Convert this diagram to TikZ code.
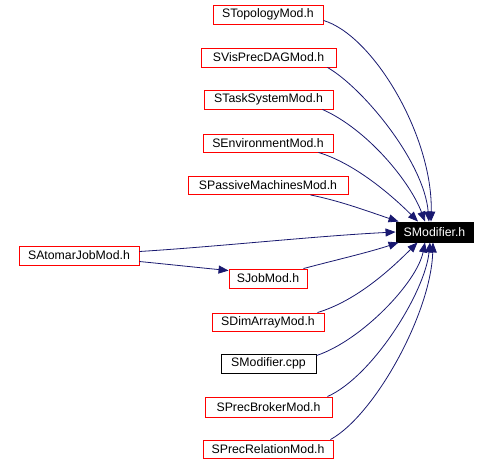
\documentclass[tikz,border=0pt]{standalone}
\usepackage{fontspec}
\setmainfont{Liberation Sans}
\usetikzlibrary{arrows.meta,calc}
\definecolor{edgeblue}{HTML}{191970}
\begin{document}
\begin{tikzpicture}[x=1pt,y=-1pt,
  box/.style={draw=red,line width=0.9pt,inner sep=0pt,minimum height=19pt,font=\fontsize{12.3}{14}\selectfont,text=black},
  blk/.style={box,draw=black},
  main/.style={box,draw=black,fill=black,text=white},
  edge/.style={draw=edgeblue,line width=0.8pt,-{Triangle[length=10pt,width=8pt]}}]
\useasboundingbox[fill=white] (0,0) rectangle (489,465);
\node[box,minimum width=110pt] (topo) at (268,14.5) {STopologyMod.h};
\node[box,minimum width=135pt] (vis) at (268.5,57.5) {SVisPrecDAGMod.h};
\node[box,minimum width=129pt] (task) at (268.5,99.5) {STaskSystemMod.h};
\node[box,minimum width=130pt,minimum height=18pt] (env) at (268,143) {SEnvironmentMod.h};
\node[box,minimum width=160pt,minimum height=18pt] (pass) at (268,185.5) {SPassiveMachinesMod.h};
\node[main,minimum width=77pt,minimum height=20pt] (mod) at (434.5,232) {SModifier.h};
\node[box,minimum width=120pt] (atom) at (79,255.5) {SAtomarJobMod.h};
\node[box,minimum width=78pt] (job) at (268,278.5) {SJobMod.h};
\node[box,minimum width=112pt,minimum height=18pt] (dim) at (268,322) {SDimArrayMod.h};
\node[blk,minimum width=95pt] (cpp) at (268.5,363.5) {SModifier.cpp};
\node[box,minimum width=127pt,minimum height=20pt] (brok) at (268.5,407) {SPrecBrokerMod.h};
\node[box,minimum width=130pt,minimum height=18pt] (rel) at (268,449) {SPrecRelationMod.h};

\draw[edge] ($(topo.south east)+(0,-4)$) .. controls +(50,15) and +(2,-85) .. ($(mod.north)+(-3.5,0)$);
\draw[edge] ($(vis.south east)+(-9,0)$) .. controls +(35,20) and +(-5,-60) .. ($(mod.north)+(-5.5,0)$);
\draw[edge] ($(task.south east)+(-11,0)$) .. controls +(45,20) and +(-15,-40) .. ($(mod.north)+(-9.5,0)$);
\draw[edge] ($(env.south east)+(-15,0)$) .. controls +(40,12) and +(-20,-20) .. ($(mod.north)+(-16.5,0)$);
\draw[edge] ($(pass.south east)+(-38,0)$) .. controls +(30,6) and +(-30,-10) .. ($(mod.north west)+(3,0)$);
\draw[edge] ($(atom.east)+(0,-4)$) .. controls +(80,-5) and +(-80,4) .. ($(mod.west)+(0,0)$);
\draw[edge] ($(atom.east)+(0,6)$) .. controls +(30,3) and +(-30,-3) .. ($(job.north west)+(0,2)$);
\draw[edge] ($(job.north east)+(-4,0)$) .. controls +(30,-8) and +(-30,10) .. ($(mod.south west)+(3,0)$);
\draw[edge] ($(dim.north east)+(-7,0)$) .. controls +(40,-12) and +(-25,25) .. ($(mod.south)+(-17,0)$);
\draw[edge] ($(cpp.north east)+(0,2)$) .. controls +(45,-15) and +(-8,40) .. ($(mod.south)+(-9.5,0)$);
\draw[edge] ($(brok.north east)+(-5,0)$) .. controls +(45,-20) and +(-5,50) .. ($(mod.south)+(-4.5,0)$);
\draw[edge] ($(rel.north east)+(-3,0)$) .. controls +(45,-25) and +(-2,70) .. ($(mod.south)+(-1.5,0)$);
\end{tikzpicture}
\end{document}
